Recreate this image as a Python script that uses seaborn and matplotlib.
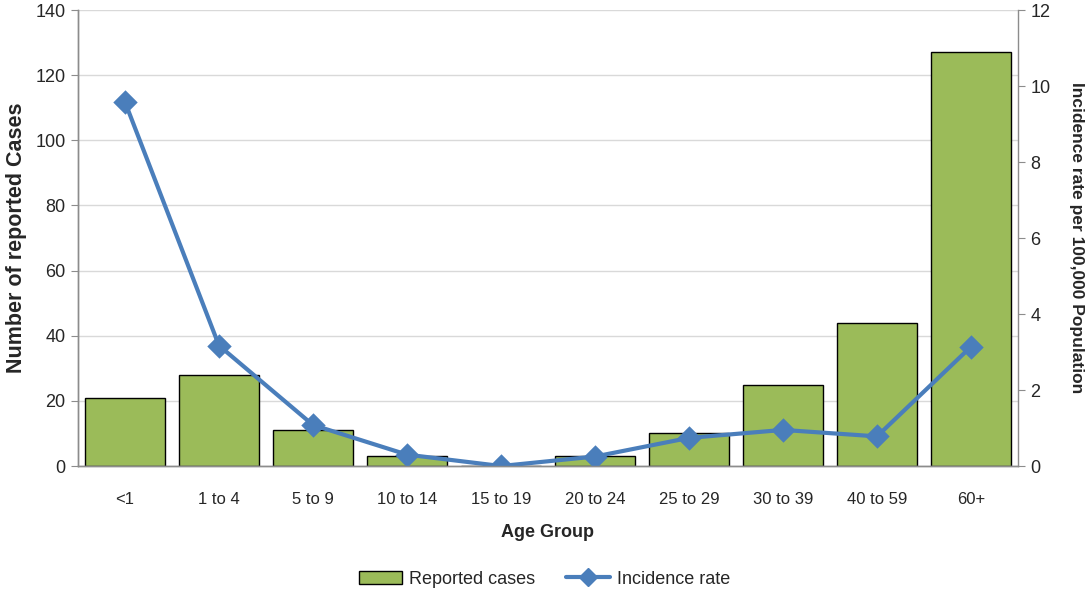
import numpy as np
import pandas as pd
import matplotlib
matplotlib.use("Agg")
import matplotlib.pyplot as plt
from matplotlib.patches import Patch
from matplotlib.lines import Line2D
import seaborn as sns

age_groups = ["<1", "1 to 4", "5 to 9", "10 to 14", "15 to 19",
              "20 to 24", "25 to 29", "30 to 39", "40 to 59", "60+"]
reported_cases = [21, 28, 11, 3, 0, 3, 10, 25, 44, 127]
incidence_rate = [9.58, 3.17, 1.08, 0.3, 0.0, 0.25, 0.74, 0.95, 0.78, 3.14]

df = pd.DataFrame({"age": age_groups, "cases": reported_cases, "rate": incidence_rate})

sns.set_style("white")
plt.rcParams["font.family"] = ["Liberation Sans", "DejaVu Sans"]

bar_col = "#9bbb59"
line_col = "#4a7ebb"
axis_col = "#8c8c8c"

fig = plt.figure(figsize=(10.89, 5.92), dpi=100)
ax = fig.add_axes([0.0716, 0.2128, 0.8632, 0.7703])

sns.barplot(data=df, x="age", y="cases", ax=ax, color=bar_col,
            edgecolor="black", linewidth=1, width=0.85, saturation=1, zorder=2)
ax.set_ylim(0, 140)
ax.set_yticks(np.arange(0, 141, 20))
ax.grid(axis="y", color="#d9d9d9", linewidth=1, zorder=0)
ax.set_axisbelow(True)

ax2 = ax.twinx()
sns.pointplot(data=df, x="age", y="rate", ax=ax2, color=line_col,
              marker="D", markersize=10, linewidth=3, errorbar=None)
ax2.set_ylim(0, 12)
ax2.set_yticks(np.arange(0, 13, 2))
ax.set_xlim(-0.5, len(age_groups) - 0.5)
ax2.set_xlim(-0.5, len(age_groups) - 0.5)

# tick marks at category boundaries, labels in the middle
ax.set_xticks(np.arange(len(age_groups)))
ax.set_xticklabels(age_groups, fontsize=12)
ax.set_xticks(np.arange(-0.5, len(age_groups)), minor=True)
ax.tick_params(axis="x", which="major", length=0, pad=19)
ax.tick_params(axis="x", which="minor", length=5, color=axis_col, width=1)
ax.tick_params(axis="y", length=5, color=axis_col, labelsize=13, pad=4)
ax2.tick_params(axis="y", length=5, color=axis_col, labelsize=13, pad=4)

for a in (ax, ax2):
    a.spines["top"].set_visible(False)
    for s in ("left", "bottom", "right"):
        a.spines[s].set_color(axis_col)
        a.spines[s].set_linewidth(1)
ax.spines["right"].set_visible(False)

lab_font = dict(family=["Liberation Sans Narrow", "Liberation Sans", "DejaVu Sans"],
                fontweight="bold")
ax.set_xlabel("Age Group", labelpad=12, fontsize=13, **lab_font)
ax.set_ylabel("Number of reported Cases", labelpad=6, fontsize=15.5, **lab_font)
ax2.set_ylabel("Incidence rate per 100,000 Population", rotation=270,
               labelpad=24, fontsize=12.5, **lab_font)

handles = [Patch(facecolor=bar_col, edgecolor="black", linewidth=1),
           Line2D([], [], color=line_col, linewidth=3, marker="D", markersize=9)]
fig.legend(handles, ["Reported cases", "Incidence rate"], loc="lower center",
           bbox_to_anchor=(0.5, -0.02), ncol=2, frameon=False, fontsize=13,
           handlelength=2.4, handletextpad=0.4, columnspacing=1.7)

fig.savefig("out.png", dpi=100)
